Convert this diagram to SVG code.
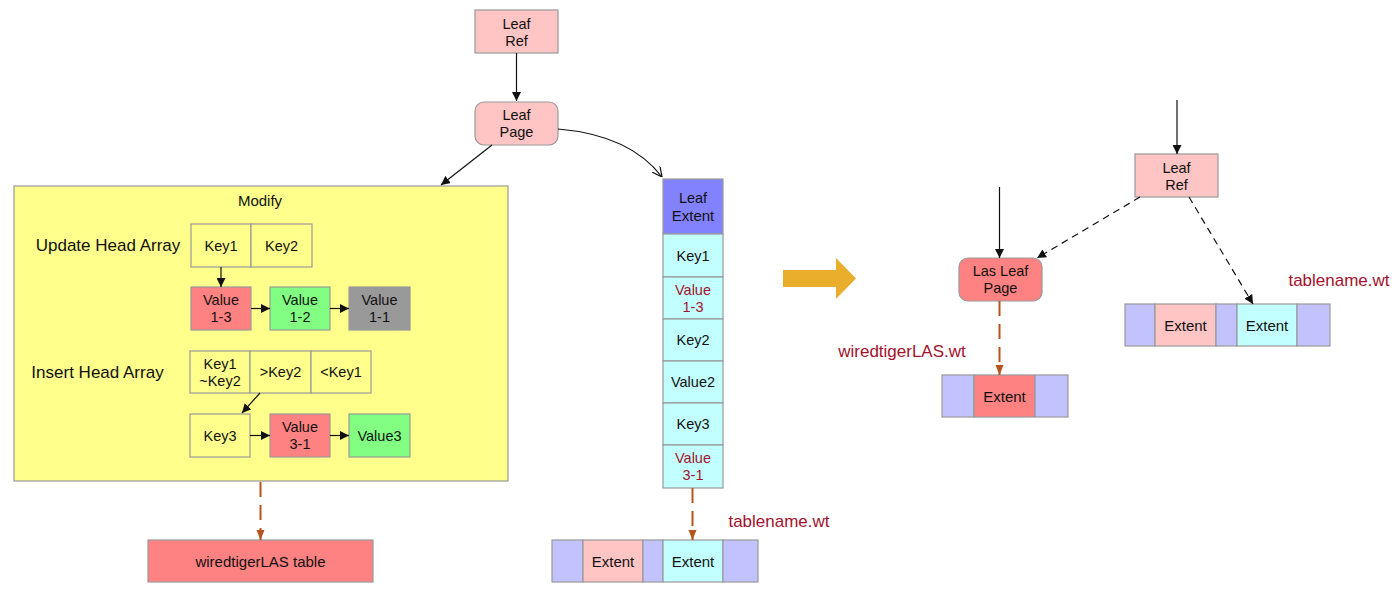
<svg xmlns="http://www.w3.org/2000/svg" width="1400" height="592" viewBox="0 0 1400 592">
<style>
text{font-family:"Liberation Sans",Arial,sans-serif;font-size:14.5px;fill:#111;text-anchor:middle;dominant-baseline:central}
.b{stroke:#999;stroke-width:1.2}
.pink{fill:#ffc4c4}
.red{fill:#ff8282}
.green{fill:#82ff82}
.gray{fill:#999999}
.yel{fill:#ffff8c}
.wht{fill:#ffff8c}
.cyan{fill:#c2ffff}
.blue{fill:#c2c2ff}
.dblue{fill:#8282ff}
.lbl{font-size:17px}
.dr{fill:#a3112d}
.ln{stroke:#111;stroke-width:1.2;fill:none}
.dash{stroke:#111;stroke-width:1.2;fill:none;stroke-dasharray:7 5}
.br{stroke:#b5541f;stroke-width:2;fill:none;stroke-dasharray:15 8}
</style>
<defs>
<marker id="ah" viewBox="0 0 10 10" refX="10" refY="5" markerWidth="9" markerHeight="9" markerUnits="userSpaceOnUse" orient="auto"><path d="M0,0 L10,5 L0,10 z" fill="#111"/></marker>
<marker id="ao" viewBox="0 0 10 10" refX="10" refY="5" markerWidth="10" markerHeight="10" markerUnits="userSpaceOnUse" orient="auto"><path d="M0,0 L10,5 L0,10" fill="none" stroke="#111" stroke-width="1.2"/></marker>
<marker id="abr" viewBox="0 0 10 10" refX="10" refY="5" markerWidth="10" markerHeight="10" markerUnits="userSpaceOnUse" orient="auto"><path d="M0,1 L10,5 L0,9 z" fill="#b5541f"/></marker>
</defs>

<g id="leafref-top">
<rect x="475" y="10" width="83" height="43" class="pink b"/>
<text x="516.5" y="23.5">Leaf</text><text x="516.5" y="40.5">Ref</text>
</g>
<g id="leafpage">
<rect x="475" y="102" width="83" height="43" rx="9" class="pink b"/>
<text x="516.5" y="115">Leaf</text><text x="516.5" y="132">Page</text>
</g>

<g id="modify">
<rect x="14" y="186" width="494" height="295" class="yel b"/>
<text x="260" y="200.5" style="font-size:15px">Modify</text>
<text x="108" y="245" class="lbl">Update Head Array</text>
<text x="97.5" y="372" class="lbl">Insert Head Array</text>
</g>
<g id="update-keys">
<rect x="191" y="224" width="60" height="43" fill="none" class="b" style="fill:#ffff8c"/>
<rect x="251" y="224" width="61" height="43" class="b" style="fill:#ffff8c"/>
<text x="221" y="245.5">Key1</text><text x="281.5" y="245.5">Key2</text>
</g>
<g id="v13"><rect x="191" y="287" width="60" height="43" class="red b"/><text x="221" y="300">Value</text><text x="221" y="317">1-3</text></g>
<g id="v12"><rect x="270" y="287" width="60" height="43" class="green b"/><text x="300" y="300">Value</text><text x="300" y="317">1-2</text></g>
<g id="v11"><rect x="349" y="287" width="61" height="43" class="gray b"/><text x="379.5" y="300">Value</text><text x="379.5" y="317">1-1</text></g>
<g id="insert-keys">
<rect x="190" y="351" width="60" height="42" class="b" style="fill:#ffff8c"/>
<rect x="250" y="351" width="61" height="42" class="b" style="fill:#ffff8c"/>
<rect x="311" y="351" width="60" height="42" class="b" style="fill:#ffff8c"/>
<text x="220" y="363.5">Key1</text><text x="220" y="380.5">~Key2</text>
<text x="280.5" y="372">&gt;Key2</text><text x="341" y="372">&lt;Key1</text>
</g>
<g id="key3"><rect x="190" y="414" width="60" height="43" class="b" style="fill:#ffff8c"/><text x="220" y="435.5">Key3</text></g>
<g id="v31"><rect x="270" y="414" width="60" height="43" class="red b"/><text x="300" y="427">Value</text><text x="300" y="444">3-1</text></g>
<g id="v3"><rect x="349" y="414" width="61" height="43" class="green b"/><text x="379.5" y="435.5">Value3</text></g>

<g id="las-table"><rect x="148" y="540" width="225" height="42" class="red b"/><text x="260.5" y="561" style="font-size:15px">wiredtigerLAS table</text></g>

<g id="leaf-extent">
<rect x="663" y="179" width="60" height="55" class="dblue b"/>
<text x="693" y="198">Leaf</text><text x="693" y="215" style="font-size:15px">Extent</text>
<rect x="663" y="234" width="60" height="43" class="cyan b"/><text x="693" y="255.5">Key1</text>
<rect x="663" y="277" width="60" height="42" class="cyan b"/><text x="693" y="290" class="dr">Value</text><text x="693" y="307" class="dr">1-3</text>
<rect x="663" y="319" width="60" height="42" class="cyan b"/><text x="693" y="340">Key2</text>
<rect x="663" y="361" width="60" height="42" class="cyan b"/><text x="693" y="382">Value2</text>
<rect x="663" y="403" width="60" height="42" class="cyan b"/><text x="693" y="424">Key3</text>
<rect x="663" y="445" width="60" height="43" class="cyan b"/><text x="693" y="458" class="dr">Value</text><text x="693" y="475" class="dr">3-1</text>
</g>
<text x="779" y="521.5" class="lbl dr">tablename.wt</text>
<g id="extent-bar-left">
<rect x="552" y="540" width="31" height="42" class="blue b"/>
<rect x="583" y="540" width="60" height="42" class="pink b"/>
<rect x="643" y="540" width="20" height="42" class="blue b"/>
<rect x="663" y="540" width="60" height="42" class="cyan b"/>
<rect x="723" y="540" width="35" height="42" class="blue b"/>
<text x="613" y="561" style="font-size:15px">Extent</text><text x="693" y="561" style="font-size:15px">Extent</text>
</g>

<g id="big-arrow"><path d="M783,270 L836,270 L836,258 L856,278.5 L836,299 L836,287 L783,287 z" fill="#e8ae2c"/></g>

<g id="las-leaf-page"><rect x="959" y="258" width="83" height="43" rx="9" class="red b"/><text x="1000.5" y="271">Las Leaf</text><text x="1000.5" y="288">Page</text></g>
<text x="902" y="351.5" class="lbl dr">wiredtigerLAS.wt</text>
<g id="extent-bar-mid">
<rect x="942" y="375" width="32" height="42" class="blue b"/>
<rect x="974" y="375" width="61" height="42" class="red b"/>
<rect x="1035" y="375" width="33" height="42" class="blue b"/>
<text x="1004.5" y="396.5" style="font-size:15px">Extent</text>
</g>
<g id="leafref-right"><rect x="1135" y="154" width="83" height="43" class="pink b"/><text x="1176.5" y="167.5">Leaf</text><text x="1176.5" y="184.5">Ref</text></g>
<text x="1339" y="280" class="lbl dr">tablename.wt</text>
<g id="extent-bar-right">
<rect x="1125" y="304" width="30" height="42" class="blue b"/>
<rect x="1155" y="304" width="61" height="42" class="pink b"/>
<rect x="1216" y="304" width="21" height="42" class="blue b"/>
<rect x="1237" y="304" width="60" height="42" class="cyan b"/>
<rect x="1297" y="304" width="33" height="42" class="blue b"/>
<text x="1185.5" y="325.5" style="font-size:15px">Extent</text><text x="1267" y="325.5" style="font-size:15px">Extent</text>
</g>

<g id="connectors">
<line x1="516.5" y1="53" x2="516.5" y2="101" class="ln" marker-end="url(#ah)"/>
<line x1="492" y1="145" x2="441" y2="185" class="ln" marker-end="url(#ah)"/>
<path d="M558,129 C605,133 640,148 662,177" class="ln" marker-end="url(#ao)"/>
<line x1="221" y1="267" x2="221" y2="287" class="ln" marker-end="url(#ah)"/>
<line x1="251" y1="308.5" x2="270" y2="308.5" class="ln" marker-end="url(#ah)"/>
<line x1="330" y1="308.5" x2="349" y2="308.5" class="ln" marker-end="url(#ah)"/>
<line x1="260" y1="393" x2="242" y2="413" class="ln" marker-end="url(#ah)"/>
<line x1="250" y1="435.5" x2="270" y2="435.5" class="ln" marker-end="url(#ah)"/>
<line x1="330" y1="435.5" x2="349" y2="435.5" class="ln" marker-end="url(#ah)"/>
<line x1="260.5" y1="482" x2="260.5" y2="540" class="br" marker-end="url(#abr)"/>
<line x1="692.5" y1="488" x2="692.5" y2="540" class="br" marker-end="url(#abr)"/>
<line x1="999.5" y1="187" x2="999.5" y2="258" class="ln" marker-end="url(#ah)"/>
<line x1="999.5" y1="301" x2="999.5" y2="375" class="br" marker-end="url(#abr)"/>
<line x1="1177" y1="100" x2="1177" y2="154" class="ln" marker-end="url(#ah)"/>
<line x1="1140" y1="197" x2="1037" y2="258" class="dash" marker-end="url(#ah)"/>
<line x1="1189" y1="197" x2="1253" y2="304" class="dash" marker-end="url(#ah)"/>
</g>
</svg>
